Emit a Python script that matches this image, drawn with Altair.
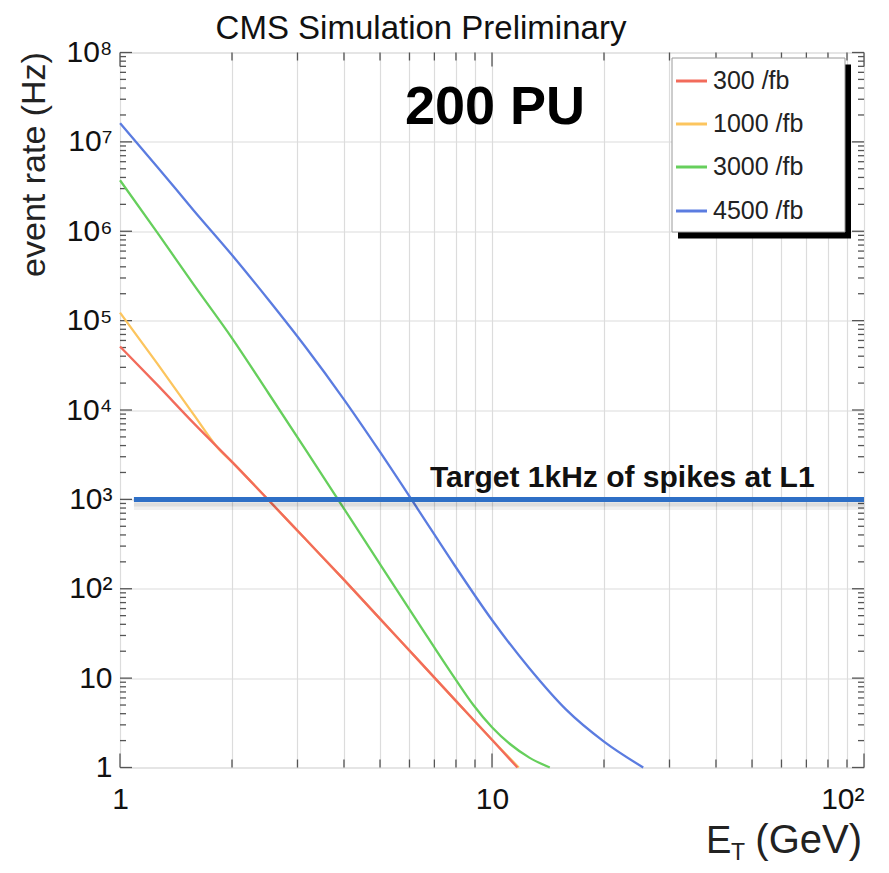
import json
import altair as alt
import pandas as pd

# ---------------- data ----------------
series_names = ["300 /fb", "1000 /fb", "3000 /fb", "4500 /fb"]
series_colors = ["#f26b5b", "#fcc55e", "#66cf5c", "#5b7ce0"]

e_300 = [1, 1.26, 1.58, 2.0, 2.51, 3.16, 3.98, 5.01, 6.31, 7.94, 10, 11.7]
r_300 = [5.13e4, 1.91e4, 7.08e3, 2.63e3, 977, 355, 129, 45.7, 16.2, 5.75, 2.04, 1.0]

e_1000 = [1, 1.26, 1.58, 1.85, 2.0, 2.51, 3.16, 3.98, 5.01, 6.31, 7.94, 10, 11.8]
r_1000 = [1.23e5, 3.3e4, 8.83e3, 3.6e3, 2.63e3, 977, 355, 129, 45.7, 16.2, 5.75, 2.04, 1.0]

e_3000 = [1, 1.26, 1.58, 2.0, 2.51, 3.16, 3.98, 5.01, 6.31, 7.94, 8.91, 10, 11.2, 12.6, 14.3]
r_3000 = [3.72e6, 9.66e5, 2.51e5, 6.38e4, 1.53e4, 3.55e3, 813, 186, 42.7, 10, 5.0, 2.82, 1.82, 1.29, 1.0]

e_4500 = [1, 1.26, 1.58, 2.0, 2.51, 3.16, 3.98, 5.01, 6.31, 7.94, 10, 12.6, 15.8, 20.0, 25.5]
r_4500 = [1.62e7, 5.25e6, 1.70e6, 5.43e5, 1.70e5, 5.0e4, 1.35e4, 3.35e3, 785, 182, 44.7, 12.9, 4.47, 1.95, 1.0]

target_rate = 1000
target_e_start = 1.09
target_e_end = 100

x_grid_values = [1, 2, 3, 4, 5, 6, 7, 8, 9, 10, 20, 30, 40, 50, 60, 70, 80, 90, 100]
x_label_values = [1, 10, 100]
x_label_texts = ["1", "10", "10\u00b2"]
y_major_values = [1, 10, 1e2, 1e3, 1e4, 1e5, 1e6, 1e7, 1e8]
y_label_texts = ["1", "10", "10\u00b2", "10\u00b3", "10\u2074", "10\u2075", "10\u2076", "10\u2077", "10\u2078"]
y_minor_values = [m * 10 ** k for k in range(8) for m in range(2, 10)]
x_minor_values = [m * 10 ** k for k in range(2) for m in range(2, 10)]

# ---------------- layout ----------------
W, H = 744, 715
FONT = "Liberation Sans"

xs = alt.Scale(type="log", domain=[1, 100], nice=False)
ys = alt.Scale(type="log", domain=[1, 1e8], nice=False)

x_expr = " : ".join(
    f"datum.value == {v} ? {json.dumps(t, ensure_ascii=False)}" for v, t in zip(x_label_values, x_label_texts)
) + " : ''"
y_expr = json.dumps(y_label_texts, ensure_ascii=False) + "[round(log(datum.value)/LN10)]"

xaxis = alt.Axis(
    values=x_grid_values, labelExpr=x_expr, grid=True, gridColor="#dcdcdc", gridWidth=1.2,
    ticks=False, domain=False, title=None, labelFontSize=30, labelFont=FONT, labelColor="#111",
    labelPadding=17, labelOverlap=False,
    labelAlign={"condition": {"test": "datum.value === 100", "value": "right"}, "value": "center"},
)
yaxis = alt.Axis(
    values=y_major_values, labelExpr=y_expr, grid=True, gridColor="#dcdcdc", gridWidth=1.2,
    ticks=False, domain=False, title=None, labelFontSize=30, labelFont=FONT, labelColor="#111",
    labelPadding=8, labelOverlap=False,
)


def X(field):
    return alt.X(field, type="quantitative", scale=xs, axis=xaxis)


def Y(field):
    return alt.Y(field, type="quantitative", scale=ys, axis=yaxis)


layers = []

# inward ticks
ymaj = pd.DataFrame({"v": y_major_values})
ymin = pd.DataFrame({"v": y_minor_values})
xmaj = pd.DataFrame({"v": x_label_values})
xmin = pd.DataFrame({"v": x_minor_values})
tick_col = "#555555"
for d, L in [(ymaj, 12), (ymin, 6)]:
    layers.append(alt.Chart(d).mark_rule(color=tick_col, strokeWidth=1.3).encode(
        y=Y("v"), x=alt.value(0), x2=alt.value(L)))
    layers.append(alt.Chart(d).mark_rule(color=tick_col, strokeWidth=1.3).encode(
        y=Y("v"), x=alt.value(W - L), x2=alt.value(W)))
for d, L in [(xmaj, 14), (xmin, 8)]:
    layers.append(alt.Chart(d).mark_rule(color=tick_col, strokeWidth=1.3).encode(
        x=X("v"), y=alt.value(H), y2=alt.value(H - L)))
    layers.append(alt.Chart(d).mark_rule(color=tick_col, strokeWidth=1.3).encode(
        x=X("v"), y=alt.value(0), y2=alt.value(L)))

# curves (draw order: 1000, 300, 3000, 4500)
curve_data = {
    "300 /fb": (e_300, r_300),
    "1000 /fb": (e_1000, r_1000),
    "3000 /fb": (e_3000, r_3000),
    "4500 /fb": (e_4500, r_4500),
}
color_of = dict(zip(series_names, series_colors))
for name in ["1000 /fb", "300 /fb", "3000 /fb", "4500 /fb"]:
    e, r = curve_data[name]
    d = pd.DataFrame({"E": e, "rate": r, "series": name})
    layers.append(alt.Chart(d).mark_line(color=color_of[name], strokeWidth=2.3, interpolate="monotone").encode(
        x=X("E"), y=Y("rate")))

# target line with soft shadow
tdf = pd.DataFrame({"x0": [target_e_start], "x1": [target_e_end], "y": [target_rate]})
layers.append(alt.Chart(tdf).mark_rule(color="#000000", opacity=0.06, strokeWidth=9, yOffset=6).encode(
    x=X("x0"), x2="x1", y=Y("y")))
layers.append(alt.Chart(tdf).mark_rule(color="#000000", opacity=0.08, strokeWidth=4, yOffset=5).encode(
    x=X("x0"), x2="x1", y=Y("y")))
layers.append(alt.Chart(tdf).mark_rule(color="#2e6fc6", strokeWidth=5).encode(
    x=X("x0"), x2="x1", y=Y("y")))

one = pd.DataFrame({"a": [0]})
# annotations
layers.append(alt.Chart(one).mark_text(text="Target 1kHz of spikes at L1", font=FONT, fontSize=30,
                                       fontWeight="bold", align="left", baseline="alphabetic", color="#111").encode(
    x=alt.value(310), y=alt.value(434.5)))
layers.append(alt.Chart(one).mark_text(text="200 PU", font=FONT, fontSize=54, fontWeight="bold",
                                       align="center", baseline="alphabetic", color="#000").encode(
    x=alt.value(375), y=alt.value(71.5)))
layers.append(alt.Chart(one).mark_text(text="CMS Simulation Preliminary", font=FONT, fontSize=33,
                                       align="center", baseline="alphabetic", color="#111").encode(
    x=alt.value(301), y=alt.value(-13.5)))
layers.append(alt.Chart(one).mark_text(text="event rate (Hz)", font=FONT, fontSize=34, angle=270,
                                       align="center", baseline="middle", color="#222").encode(
    x=alt.value(-85), y=alt.value(112)))
layers.append(alt.Chart(one).mark_text(text="E", font=FONT, fontSize=38, align="left",
                                       baseline="alphabetic", color="#222").encode(
    x=alt.value(586), y=alt.value(800)))
layers.append(alt.Chart(one).mark_text(text="T", font=FONT, fontSize=23, align="left",
                                       baseline="alphabetic", color="#222").encode(
    x=alt.value(611), y=alt.value(807)))
layers.append(alt.Chart(one).mark_text(text="(GeV)", font=FONT, fontSize=40, align="right",
                                       baseline="alphabetic", color="#222").encode(
    x=alt.value(742), y=alt.value(800)))

# legend box
layers.append(alt.Chart(one).mark_rect(color="#000000").encode(
    x=alt.value(558), x2=alt.value(731), y=alt.value(12), y2=alt.value(186)))
layers.append(alt.Chart(one).mark_rect(fill="#ffffff", stroke="#9a9a9a", strokeWidth=1).encode(
    x=alt.value(552), x2=alt.value(725), y=alt.value(5.5), y2=alt.value(179.5)))
row_y = [28.5, 71.5, 114.5, 158.5]
for name, col, yy in zip(series_names, series_colors, row_y):
    layers.append(alt.Chart(one).mark_rule(color=col, strokeWidth=3).encode(
        x=alt.value(556), x2=alt.value(587), y=alt.value(yy)))
    layers.append(alt.Chart(one).mark_text(text=name, font=FONT, fontSize=25, align="left",
                                           baseline="middle", color="#222").encode(
        x=alt.value(593), y=alt.value(yy)))

chart = alt.layer(*layers).properties(
    width=W, height=H,
    autosize=alt.AutoSizeParams(type="none"),
    padding={"left": 112, "top": 44.5, "right": 17, "bottom": 97},
).configure_view(stroke="#555555", strokeWidth=2.2).configure(background="white")

chart.save("out.html", embed_options={"renderer": "svg", "actions": False})
